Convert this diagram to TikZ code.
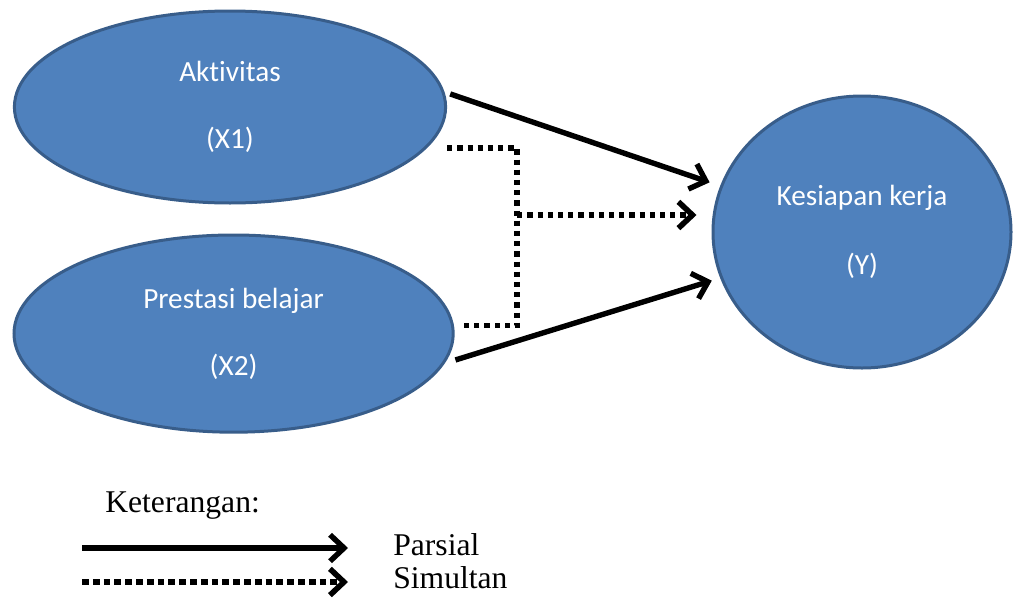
\documentclass[tikz,border=0pt]{standalone}
\usepackage{fontspec}
\setmainfont{Liberation Serif}
\newfontfamily\calibri[Ligatures=NoCommon]{Carlito}
\usetikzlibrary{shapes.geometric, arrows.meta}

\definecolor{varfill}{HTML}{4F81BD}
\definecolor{varline}{HTML}{385D8A}

\tikzset{
  var/.style={ellipse, draw=varline, fill=varfill, line width=0.075cm, inner sep=0pt,
    text=white, align=center, font=\calibri\fontsize{20.8}{25}\selectfont},
  legend/.style={anchor=base west, inner sep=0pt, font=\fontsize{22.5}{27}\selectfont},
  tip/.style={-{Straight Barb[length=0.35cm, width=0.66cm]}},
  parsial/.style={line width=0.135cm},
  simultan/.style={line width=0.14cm, dash pattern=on 0.13cm off 0.125cm},
}

\begin{document}
\begin{tikzpicture}
  \useasboundingbox (0,0) rectangle (25.4,-14.95);
  % variabel
  \node[var, minimum width=10.78cm, minimum height=4.8cm] (x1) at (5.75,-2.675) {Aktivitas\\[0.8cm](X1)};
  \node[var, minimum width=10.98cm, minimum height=4.93cm] (x2) at (5.84,-8.34) {Prestasi belajar\\[0.8cm](X2)};
  \node[var, minimum width=7.45cm, minimum height=6.8cm] (y) at (21.55,-5.8) {Kesiapan kerja\\[0.85cm](Y)};

  % pengaruh parsial
  \draw[parsial, tip, shorten <=0.15cm, shorten >=0.28cm] (x1.4) -- (y.162);
  \draw[parsial, tip, shorten <=0.28cm, shorten >=0.22cm] (x2.-8) -- (y.198);

  % pengaruh simultan
  \coordinate (j) at (12.93,-5.375);
  \draw[simultan] ([yshift=-1.025cm]x1.east) -| (j) |- ([shift={(0.2cm,0.2cm)}]x2.east);
  \draw[simultan, tip, shorten >=0.375cm] (j) -- (j -| y.west);

  % keterangan
  \node[legend] (ket) at (2.625,-12.8) {Keterangan:};
  \node[legend] (lpar) at (9.825,-13.875) {Parsial};
  \node[legend] (lsim) at (9.825,-14.7) {Simultan};
  \coordinate (a1) at (2.05,-13.7);
  \coordinate (a2) at (2.05,-14.55);
  \draw[parsial, tip, shorten >=1.125cm] (a1) -- (a1 -| lpar.west);
  \draw[simultan, dash pattern=on 0.17cm off 0.1cm, tip, shorten >=1.125cm] (a2) -- (a2 -| lsim.west);
\end{tikzpicture}
\end{document}
